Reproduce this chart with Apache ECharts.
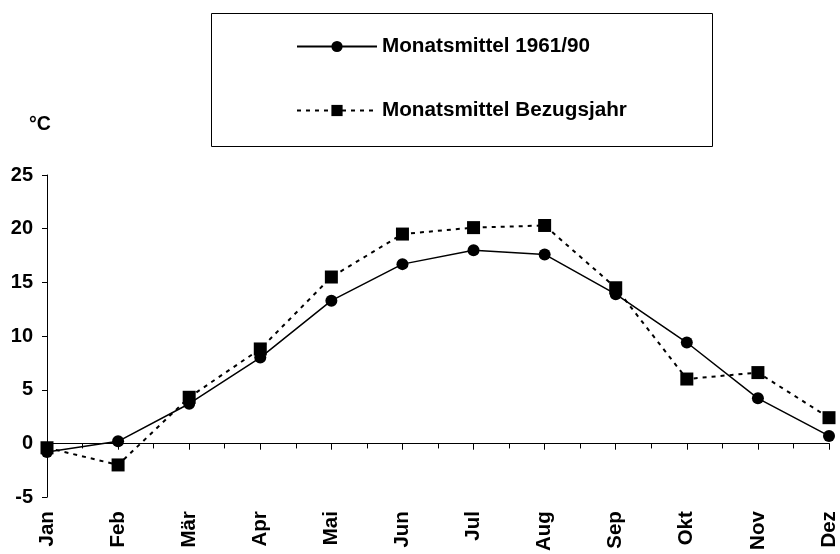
<!DOCTYPE html>
<html>
<head>
<meta charset="utf-8">
<script src="https://cdn.jsdelivr.net/npm/echarts@6/dist/echarts.min.js"></script>
<style>
  html, body { margin: 0; padding: 0; background: #fff; }
  #main { width: 840px; height: 554px; }
</style>
</head>
<body>
<div id="main"></div>
<script>
// months on the x axis
var months = ['Jan', 'Feb', 'Mär', 'Apr', 'Mai', 'Jun', 'Jul', 'Aug', 'Sep', 'Okt', 'Nov', 'Dez'];
// monthly means, °C
var mittel6190 = [-0.8, 0.2, 3.7, 8.0, 13.3, 16.7, 18.0, 17.6, 13.9, 9.4, 4.2, 0.7];
var bezugsjahr = [-0.4, -2.0, 4.3, 8.8, 15.5, 19.5, 20.1, 20.3, 14.5, 6.0, 6.6, 2.4];
var yTicks = { min: -5, max: 25, step: 5 };

var font = 'Liberation Sans, Arial, sans-serif';

function pairs(vals) {
  return vals.map(function (v, i) { return [i, v]; });
}

var myChart = echarts.init(document.getElementById('main'), null, { renderer: 'canvas' });

var xBase = { type: 'value', min: 0, max: months.length - 1, interval: 1, splitLine: { show: false } };

var option = {
  animation: false,
  backgroundColor: '#fff',
  textStyle: { fontFamily: font },
  grid: { left: 47, right: 11, top: 175, bottom: 56 },
  graphic: [
    {
      type: 'rect',
      shape: { x: 211.5, y: 13.5, width: 501, height: 133 },
      style: { fill: 'none', stroke: '#000', lineWidth: 1 }
    }
  ],
  legend: {
    orient: 'vertical',
    left: 291,
    top: 31,
    itemWidth: 80,
    itemHeight: 14,
    itemGap: 43,
    textStyle: { fontFamily: font, fontWeight: 'bold', fontSize: 20.7, color: '#000', lineHeight: 20 },
    data: ['Monatsmittel 1961/90', 'Monatsmittel Bezugsjahr']
  },
  xAxis: [
    Object.assign({}, xBase, {
      axisLine: { onZero: true, onZeroAxisIndex: 0, lineStyle: { color: '#000', width: 1 } },
      axisTick: { show: true, inside: false, length: 6, lineStyle: { color: '#000' } },
      minorTick: { show: true, splitNumber: 2, length: 5, lineStyle: { color: '#000' } },
      axisLabel: { show: false }
    }),
    // upper half of the crossing ticks, sits on zero of the hidden twin y axis
    Object.assign({}, xBase, {
      axisLine: { show: true, onZero: true, onZeroAxisIndex: 1, lineStyle: { color: 'rgba(0,0,0,0)', width: 1 } },
      axisTick: { show: true, inside: true, length: 6, lineStyle: { color: '#000' } },
      axisLabel: { show: false }
    }),
    Object.assign({}, xBase, {
      position: 'bottom',
      axisLine: { show: false, onZero: false },
      axisTick: { show: false },
      axisLabel: {
        rotate: 90,
        margin: 14,
        fontFamily: font,
        fontWeight: 'bold',
        fontSize: 20.5,
        color: '#000',
        formatter: function (v) { return months[v]; }
      }
    })
  ],
  yAxis: [
    {
      type: 'value',
      min: yTicks.min,
      max: yTicks.max,
      interval: yTicks.step,
      name: '°C',
      nameLocation: 'end',
      nameGap: 40,
      nameTextStyle: { fontFamily: font, fontWeight: 'bold', fontSize: 19.5, color: '#000', padding: [0, 14, 0, 0] },
      axisLine: { show: true, lineStyle: { color: '#000', width: 1 } },
      axisTick: { show: true, inside: false, length: 5, lineStyle: { color: '#000' } },
      splitLine: { show: false },
      axisLabel: { margin: 14, fontFamily: font, fontWeight: 'bold', fontSize: 20, color: '#000' }
    },
    {
      type: 'value',
      show: false,
      position: 'left',
      min: yTicks.min,
      max: yTicks.max,
      interval: yTicks.step,
      splitLine: { show: false }
    }
  ],
  series: [
    {
      name: 'Monatsmittel 1961/90',
      type: 'line',
      xAxisIndex: 0,
      yAxisIndex: 0,
      data: pairs(mittel6190),
      symbol: 'circle',
      symbolSize: 12,
      itemStyle: { color: '#000' },
      lineStyle: { color: '#000', width: 1.5, type: 'solid' },
      z: 3
    },
    {
      name: 'Monatsmittel Bezugsjahr',
      type: 'line',
      xAxisIndex: 0,
      yAxisIndex: 0,
      data: pairs(bezugsjahr),
      symbol: 'rect',
      symbolSize: 13,
      itemStyle: { color: '#000' },
      lineStyle: { color: '#000', width: 2, type: [4, 5] },
      z: 4
    }
  ]
};

myChart.setOption(option);
</script>
</body>
</html>
